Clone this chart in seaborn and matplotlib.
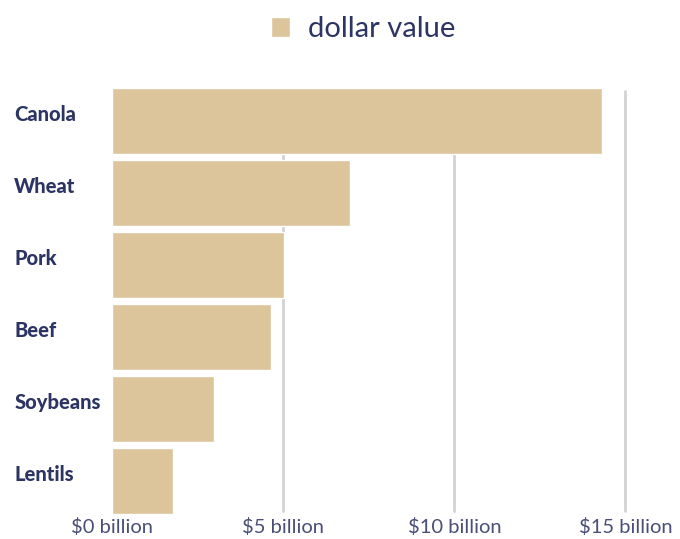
import pandas as pd
import matplotlib
matplotlib.use('Agg')
import matplotlib.pyplot as plt
import seaborn as sns
from matplotlib.ticker import FixedLocator

# 데이터
crops = ['Canola', 'Wheat', 'Pork', 'Beef', 'Soybeans', 'Lentils']
dollar_value = [14.33, 6.96, 5.02, 4.64, 2.98, 1.77]   # billion $
tick_values = [0, 5, 10, 15]
tick_labels = ['\\$0 billion', '\\$5 billion', '\\$10 billion', '\\$15 billion']

df = pd.DataFrame({'crop': crops, 'value': dollar_value})

sns.set_style('white')
plt.rcParams['font.family'] = ['Lato', 'DejaVu Sans']

bar_color = '#dcc59b'
navy = '#2c3463'
tick_color = '#4a4f78'

fig = plt.figure(figsize=(6.8, 5.39), dpi=100)
ax = fig.add_axes([0.165, 0.0408, 0.805, 0.8015])

sns.barplot(data=df, x='value', y='crop', orient='h', color=bar_color,
            width=0.92, saturation=1, label='dollar value', ax=ax, zorder=2)

# 그리드
ax.xaxis.set_major_locator(FixedLocator(tick_values))
ax.set_xticklabels(tick_labels)
ax.set_xlim(0, 16.0)
ax.set_ylim(5.5, -0.5)
for v in tick_values[1:]:
    ax.axvline(v, ymin=0.015, ymax=0.985, color='#d3d3d6', lw=2, zorder=1)

for s in ax.spines.values():
    s.set_visible(False)
ax.set_xlabel('')
ax.set_ylabel('')

ax.tick_params(axis='x', length=0, pad=1, labelsize=14.5, labelcolor=tick_color)
ax.tick_params(axis='y', length=0, pad=70.5, labelsize=14.5, labelcolor=navy)
for t in ax.get_yticklabels():
    t.set_fontweight('black')
    t.set_horizontalalignment('left')
    t.set_verticalalignment('baseline')

if ax.legend_:
    ax.legend_.remove()
handles, labels = ax.get_legend_handles_labels()
fig.legend(handles, labels, loc='upper center', bbox_to_anchor=(0.534, 1.008),
           frameon=False, fontsize=21, labelcolor=navy, handlelength=0.65,
           handleheight=0.65, handletextpad=0.6, borderpad=0.2)

fig.savefig('out.png', dpi=100)
